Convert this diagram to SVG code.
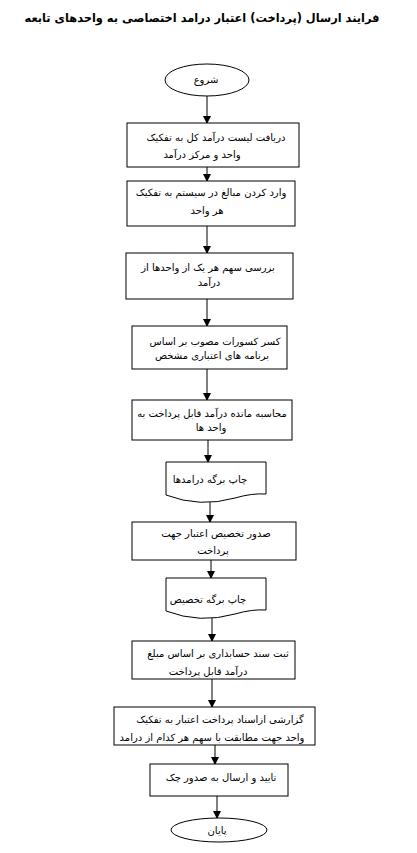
<svg xmlns="http://www.w3.org/2000/svg" width="417" height="853" viewBox="0 0 417 853">
<defs>
<marker id="ah" markerWidth="8" markerHeight="8" refX="7" refY="4" orient="auto" markerUnits="userSpaceOnUse">
<path d="M0,0 L8,4 L0,8 z" fill="#000"/>
</marker>
<style>
.s{fill:#fff;stroke:#000;stroke-width:1}
.t{font-family:"DejaVu Sans",sans-serif;font-size:10px;fill:#000;text-anchor:middle;direction:rtl}
.c{stroke:#000;stroke-width:1;fill:none;marker-end:url(#ah)}
.ttl{font-family:"DejaVu Sans",sans-serif;font-size:11.5px;font-weight:bold;fill:#000;text-anchor:middle;direction:rtl}
</style>
</defs>
<rect width="417" height="853" fill="#fff"/>
<text class="ttl" x="202" y="22" textLength="355" lengthAdjust="spacingAndGlyphs">فرایند ارسال (پرداخت) اعتبار درامد اختصاصی به واحدهای تابعه</text>
<g id="connectors">
<line class="c" x1="207" y1="96" x2="207" y2="123"/>
<line class="c" x1="207" y1="167" x2="207" y2="181"/>
<line class="c" x1="207" y1="226" x2="207" y2="253"/>
<line class="c" x1="207" y1="299" x2="207" y2="326"/>
<line class="c" x1="207" y1="369" x2="207" y2="400"/>
<line class="c" x1="208" y1="440" x2="208" y2="462"/>
<line class="c" x1="210" y1="500" x2="210" y2="522"/>
<line class="c" x1="211" y1="560" x2="211" y2="578"/>
<line class="c" x1="212" y1="616" x2="212" y2="641"/>
<line class="c" x1="212" y1="679" x2="212" y2="707"/>
<line class="c" x1="215" y1="745" x2="215" y2="764"/>
<line class="c" x1="217" y1="796" x2="217" y2="818"/>
</g>
<g id="start">
<ellipse class="s" cx="207" cy="80" rx="42" ry="16"/>
<text class="t" x="206" y="83">شروع</text>
</g>
<g id="n1">
<rect class="s" x="127" y="123" width="172" height="44"/>
<text class="t" x="216" y="141">دریافت لیست درآمد کل به تفکیک</text>
<text class="t" x="202" y="158">واحد و مرکز درآمد</text>
</g>
<g id="n2">
<rect class="s" x="127" y="181" width="168" height="45"/>
<text class="t" x="211" y="196">وارد کردن مبالغ در سیستم به تفکیک</text>
<text class="t" x="207" y="214">هر واحد</text>
</g>
<g id="n3">
<rect class="s" x="126" y="253" width="167" height="46"/>
<text class="t" x="208" y="271">بررسی سهم هر یک از واحدها از</text>
<text class="t" x="209" y="286">درآمد</text>
</g>
<g id="n4">
<rect class="s" x="132" y="326" width="155" height="43"/>
<text class="t" x="215" y="345">کسر کسورات مصوب بر اساس</text>
<text class="t" x="212" y="359">برنامه های اعتباری مشخص</text>
</g>
<g id="n5">
<rect class="s" x="132" y="400" width="160" height="40"/>
<text class="t" x="212" y="417">محاسبه مانده درآمد قابل پرداخت به</text>
<text class="t" x="211" y="431">واحد ها</text>
</g>
<g id="d1">
<path class="s" d="M166,462 H266 V494 Q252,493 235,498 Q200,508 166,495 Z"/>
<text class="t" x="210" y="483">چاپ برگه درامدها</text>
</g>
<g id="n6">
<rect class="s" x="132" y="522" width="164" height="38"/>
<text class="t" x="216" y="537">صدور تخصیص اعتبار جهت</text>
<text class="t" x="213" y="554">پرداخت</text>
</g>
<g id="d2">
<path class="s" d="M166,578 H266 V610 Q252,609 235,614 Q200,624 166,611 Z"/>
<text class="t" x="208" y="603">چاپ برگه تخصیص</text>
</g>
<g id="n7">
<rect class="s" x="132" y="641" width="163" height="38"/>
<text class="t" x="218" y="657">ثبت سند حسابداری بر اساس مبلغ</text>
<text class="t" x="208" y="675">درآمد قابل پرداخت</text>
</g>
<g id="n8">
<rect class="s" x="114" y="707" width="201" height="38"/>
<text class="t" x="220" y="723">گزارشی ازاسناد پرداخت اعتبار به تفکیک</text>
<text class="t" x="212" y="741">واحد جهت مطابقت با سهم هر کدام از درامد</text>
</g>
<g id="n9">
<rect class="s" x="150" y="764" width="138" height="32"/>
<text class="t" x="221" y="781">تایید و ارسال به صدور چک</text>
</g>
<g id="end">
<ellipse class="s" cx="219" cy="830" rx="48" ry="12"/>
<text class="t" x="217" y="834">پایان</text>
</g>
</svg>
